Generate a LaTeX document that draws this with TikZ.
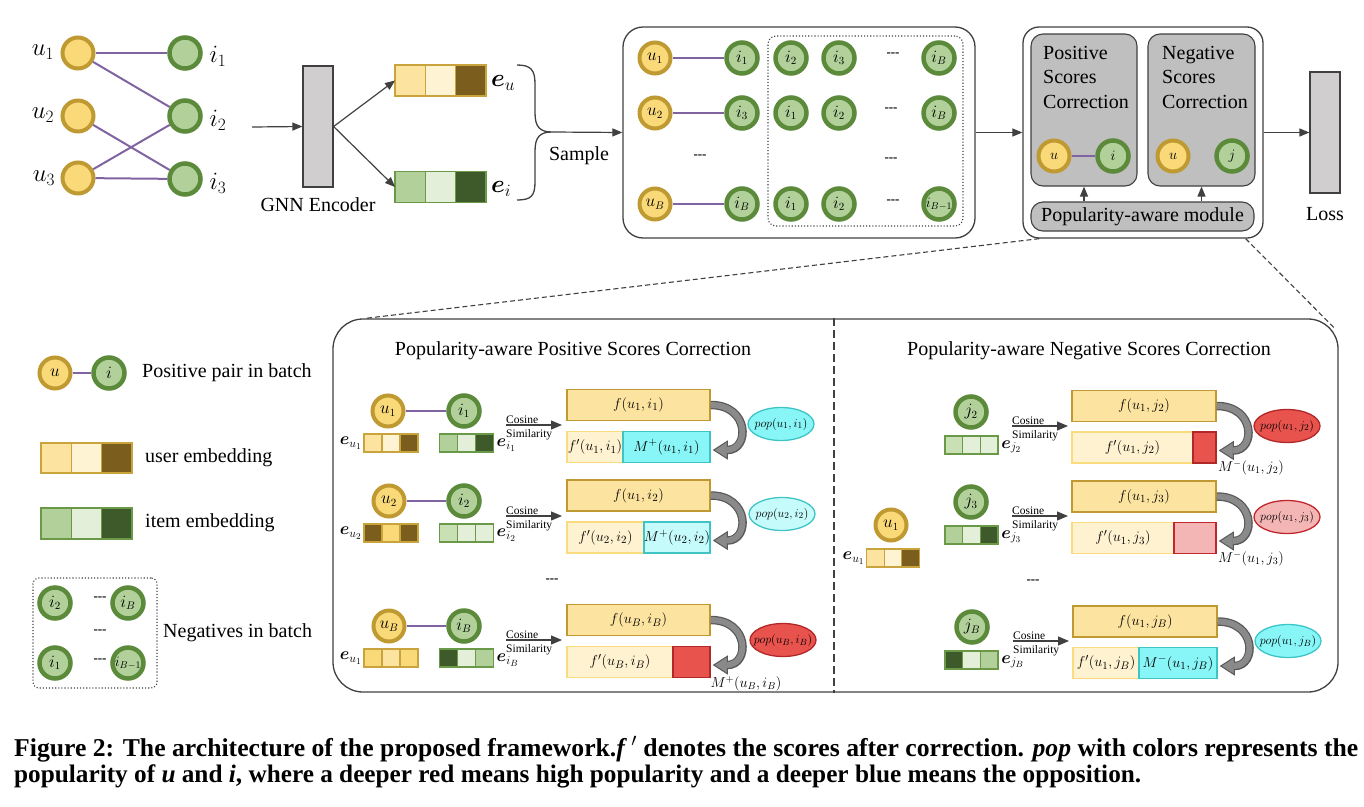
\documentclass[tikz,border=0pt]{standalone}
\usepackage{amsmath,bm,graphicx}
\usepackage{fontspec}
\setmainfont{Liberation Serif}
\usetikzlibrary{arrows.meta,calc,shapes.geometric}
\newcommand\fsz[1]{\fontsize{#1}{#1}\selectfont}
\definecolor{uyel}{HTML}{F9D978}
\definecolor{ugold}{HTML}{BF9A32}
\definecolor{ilight}{HTML}{B1D09A}
\definecolor{igreen}{HTML}{5B8A3A}
\definecolor{purp}{HTML}{8064A2}
\definecolor{eY1}{HTML}{FCE4A0}
\definecolor{eY2}{HTML}{FEF3D3}
\definecolor{eY3}{HTML}{7B5E1E}
\definecolor{eYb}{HTML}{C9A33B}
\definecolor{eG1}{HTML}{B1D09A}
\definecolor{eG2}{HTML}{E4EFDA}
\definecolor{eG3}{HTML}{3F5A2A}
\definecolor{eG4}{HTML}{C9E0B5}
\definecolor{eGb}{HTML}{6A9A48}
\definecolor{fY}{HTML}{FCE4A0}
\definecolor{fYd}{HTML}{BF9A32}
\definecolor{fpY}{HTML}{FEF2D0}
\definecolor{fpYd}{HTML}{FADB7E}
\definecolor{cyA}{HTML}{88F5F7}
\definecolor{cyB}{HTML}{C6FBFB}
\definecolor{cyD}{HTML}{3FC4C6}
\definecolor{rdA}{HTML}{E8534E}
\definecolor{rdD}{HTML}{B02828}
\definecolor{pkA}{HTML}{F4B6B5}
\definecolor{pkD}{HTML}{C0272D}
\definecolor{modg}{HTML}{BFBFBF}
\definecolor{boxg}{HTML}{D0CECE}
\definecolor{cgray}{HTML}{8A8A8A}
\definecolor{lin}{HTML}{404040}
\newcommand\emb[9]{%
  \node[cell, minimum width=#4, minimum height=#5, fill=#7, draw=#9] (#1-2) at (#2,#3) {};
  \node[cell, minimum width=#4, minimum height=#5, fill=#6, draw=#9, anchor=east] (#1-1) at (#1-2.west) {};
  \node[cell, minimum width=#4, minimum height=#5, fill=#8, draw=#9, anchor=west] (#1-3) at (#1-2.east) {};
}
\newcommand\curvarr[2]{%
  \draw[line width=8.5pt, black!65, -{Triangle[length=15pt,width=19pt,line width=1pt,color=black!65,fill=cgray]}] (#1.east) .. controls +(39,0) and +(37,0) .. ($(#2.east)+(2,3)$);
  \draw[line width=6pt, cgray, shorten >=14pt] (#1.east) .. controls +(39,0) and +(37,0) .. ($(#2.east)+(2,3)$);
}
\newcommand\cosarrow[3]{%
  \coordinate (#1s) at (#2,#3);
  \coordinate (#1e) at ($(#2,#3)+(56,0)$);
  \draw[cosarr] (#1s) -- (#1e);
  \node[cosl, anchor=base west] at ($(#1s)+(0,-2)$) {Cosine};
  \node[cosl, anchor=base west] at ($(#1s)+(0,12)$) {Similarity};
}
% pop ellipse: name, x, y, fill, draw, text
\newcommand\popnode[6]{%
  \node[popell, fill=#4, draw=#5] (#1) at (#2,#3) {};
  \node[poptxt] at (#1.center) {#6};
}
\begin{document}
\begin{tikzpicture}[x=1pt,y=-1pt,
  ucirc/.style={circle, draw=ugold, fill=uyel, line width=4pt, minimum size=31pt, inner sep=0pt, font=\fsz{16}},
  icirc/.style={circle, draw=igreen, fill=ilight, line width=4.5pt, minimum size=31pt, inner sep=0pt, font=\fsz{16}},
  pedge/.style={draw=purp, line width=2pt},
  arr/.style={draw=lin, line width=1.2pt, -{Triangle[length=10pt,width=8pt]}},
  cosarr/.style={draw=lin, line width=1.2pt, -{Triangle[length=11pt,width=9pt]}},
  cosl/.style={font=\fsz{11.5}, inner sep=0pt},
  cell/.style={rectangle, inner sep=0pt, outer sep=0pt, line width=1.3pt},
  txt/.style={font=\fsz{20}, inner sep=0pt},
  big/.style={font=\fsz{23}, inner sep=0pt},
  dashes/.style={font=\fsz{13}\bfseries, inner sep=0pt},
  fbox/.style={rectangle, fill=fY, draw=fYd, line width=1.5pt, minimum width=143pt, minimum height=31pt, inner sep=0pt, font=\fsz{15.5}},
  fpbox/.style={rectangle, fill=fpY, draw=fpYd, line width=1.5pt, minimum height=31pt, inner sep=0pt, font=\fsz{15}},
  mbox/.style={rectangle, line width=1.5pt, minimum height=31pt, inner sep=0pt, font=\fsz{15}},
  popell/.style={ellipse, minimum width=66pt, minimum height=33pt, inner sep=0pt, line width=1.3pt},
  poptxt/.style={font=\fsz{12.5}, inner sep=0pt},
  elab/.style={font=\fsz{18}, inner sep=0pt},
  mlab/.style={font=\fsz{14.5}, inner sep=0pt},
  graybox/.style={rectangle, fill=boxg, draw=lin, line width=1.2pt, inner sep=0pt},
  modbox/.style={rectangle, rounded corners=12pt, fill=modg, draw=lin, line width=1.1pt, inner sep=0pt},
  zoomline/.style={draw=lin, line width=1.1pt, dash pattern=on 5pt off 3pt},
]
\useasboundingbox (0,0) rectangle (1364,806);

% ---------------- top-left bipartite graph
\node[ucirc] (u1) at (78,53) {};
\node[ucirc] (u2) at (78,116) {};
\node[ucirc] (u3) at (78,178) {};
\node[icirc] (i1) at (185,53) {};
\node[icirc] (i2) at (185,116) {};
\node[icirc] (i3) at (185,179) {};
\node[big] (lu1) at (43,52) {$u_1$};
\node[big] (lu2) at (43,115) {$u_2$};
\node[big] (lu3) at (44,178) {$u_3$};
\node[big] (li1) at (218,56) {$i_1$};
\node[big] (li2) at (218,120) {$i_2$};
\node[big] (li3) at (218,183) {$i_3$};
\draw[pedge] (u1) -- (i1);
\draw[pedge] (u1) -- (i2);
\draw[pedge] (u2) -- (i3);
\draw[pedge] (u3) -- (i2);
\draw[pedge] (u3) -- (i3);

% ---------------- GNN encoder
\node[graybox, minimum width=30pt, minimum height=121pt] (gnn) at (318,126.5) {};
\coordinate (gin) at (252,127);
\draw[arr] (gin) -- (gnn.west);
\node[txt] (gnnl) at (318,205) {GNN Encoder};
\emb{eu}{440.5}{80.5}{30.3}{31}{eY1}{eY2}{eY3}{eYb}
\emb{ei}{440.5}{187}{30.3}{31}{eG1}{eG2}{eG3}{eGb}
\draw[arr] (gnn.east) -- (eu-1.west);
\draw[arr] (gnn.east) -- (ei-1.west);
\node[font=\fsz{25}, inner sep=0pt, anchor=west] (eul) at (491,83) {$\bm{e}_u$};
\node[font=\fsz{25}, inner sep=0pt, anchor=west] (eil) at (491,189) {$\bm{e}_i$};

% brace + sample
\coordinate (brtop) at (517,65);
\coordinate (brtip) at (552,132);
\coordinate (brbot) at (517,200);
\draw[draw=lin, line width=1.3pt] (brtop) .. controls (531,65) and (535,70) .. (535,84) -- (535,113)
   .. controls (535,127) and (540,132) .. (brtip)
   .. controls (540,132) and (535,137) .. (535,151) -- (535,182)
   .. controls (535,196) and (531,200) .. (brbot);
\node[txt] (sample) at (579,156) {Sample};

% ---------------- batch box
\node[draw=lin, line width=1.3pt, rounded corners=20pt, minimum width=352pt, minimum height=211pt] (batch) at (799,132.5) {};
\draw[arr] (brtip) -- (batch.west);
\node[draw=lin, line width=1.1pt, dotted, rounded corners=8pt, minimum width=195pt, minimum height=190pt] (negbox) at (865.5,131) {};
\node[ucirc] (bu1) at (655,58) {$u_1$};
\node[icirc] (bi1) at (742,58) {$i_1$};
\node[icirc] (bn12) at (791,58) {$i_2$};
\node[icirc] (bn13) at (839,58) {$i_3$};
\node[dashes] (bd1) at (893,55) {-{}-{}-};
\node[icirc] (bn1B) at (939,58) {$i_B$};
\node[ucirc] (bu2) at (655,113) {$u_2$};
\node[icirc] (bi2) at (742,113) {$i_3$};
\node[icirc] (bn21) at (791,113) {$i_1$};
\node[icirc] (bn22) at (839,113) {$i_2$};
\node[dashes] (bd2) at (891,110) {-{}-{}-};
\node[icirc] (bn2B) at (939,113) {$i_B$};
\node[dashes] (bd3) at (700,157) {-{}-{}-};
\node[dashes] (bd4) at (891,160) {-{}-{}-};
\node[ucirc] (buB) at (655,204) {$u_B$};
\node[icirc] (biB) at (742,204) {$i_B$};
\node[icirc] (bnB1) at (791,204) {$i_1$};
\node[icirc] (bnB2) at (839,204) {$i_2$};
\node[dashes] (bd5) at (893,202) {-{}-{}-};
\node[icirc, font=\fsz{14}] (bnBB) at (939,204) {$i_{B-1}$};
\draw[pedge] (bu1) -- (bi1);
\draw[pedge] (bu2) -- (bi2);
\draw[pedge] (buB) -- (biB);

% ---------------- module box
\node[draw=lin, line width=1.3pt, fill=white, rounded corners=16pt, minimum width=240pt, minimum height=211pt] (module) at (1143,132.5) {};
\draw[arr] (batch.east) -- (module.west);
\node[modbox, minimum width=106pt, minimum height=152pt] (posbox) at (1084,110) {};
\node[modbox, minimum width=107pt, minimum height=152pt] (negbox2) at (1201.5,110) {};
\node[font=\fontsize{20}{24.5}\selectfont, inner sep=0pt, align=left, anchor=north west] (postxt) at (1043,46) {Positive\\Scores\\Correction};
\node[font=\fontsize{20}{24.5}\selectfont, inner sep=0pt, align=left, anchor=north west] (negtxt) at (1162,46) {Negative\\Scores\\Correction};
\node[ucirc, font=\fsz{14}] (mu1) at (1054,156) {$u$};
\node[icirc, font=\fsz{14}] (mi1) at (1113,156) {$i$};
\draw[pedge] (mu1) -- (mi1);
\node[ucirc, font=\fsz{14}] (mu2) at (1173,156) {$u$};
\node[icirc, font=\fsz{14}] (mj2) at (1232,156) {$j$};
\node[modbox, minimum width=223pt, minimum height=29pt, font=\fsz{20}] (popmod) at (1142.5,216.5) {Popularity-aware module};
\draw[arr] (popmod.north -| posbox.south) -- (posbox.south);
\draw[arr] (popmod.north -| negbox2.south) -- (negbox2.south);
\node[graybox, minimum width=30pt, minimum height=121pt] (loss) at (1325,132.5) {};
\draw[arr] (module.east) -- (loss.west);
\node[txt] (losst) at (1325,214) {Loss};

% ---------------- lower box
\node[draw=lin, line width=1.3pt, rounded corners=30pt, minimum width=1005pt, minimum height=373pt] (lower) at (835.5,505.5) {};
\draw[zoomline] ($(module.south west)+(17,0)$) -- ($(lower.north west)+(33,0)$);
\draw[zoomline] ($(module.south east)+(-18,0)$) -- ($(lower.north east)+(-3,11)$);
\draw[draw=lin, line width=1.4pt, dash pattern=on 8pt off 4pt] ($(lower.north)+(-1.5,0)$) -- ($(lower.south)+(-1.5,0)$);
\node[txt] (ttlpos) at (573,351) {Popularity-aware Positive Scores Correction};
\node[txt] (ttlneg) at (1089,351) {Popularity-aware Negative Scores Correction};

% positive row 1
\node[ucirc] (pu1) at (388,411) {$u_1$};
\node[icirc] (pi1) at (464,411) {$i_1$};
\draw[pedge] (pu1) -- (pi1);
\emb{peu1}{391}{443}{18}{18}{eY1}{eY2}{eY3}{eYb}
\emb{pei1}{466.5}{443}{18}{18}{eG1}{eG2}{eG3}{eGb}
\node[elab, anchor=east] (peu1l) at ($(peu1-1.west)+(-2,0)$) {$\bm{e}_{u_1}$};
\node[elab, anchor=west] (pei1l) at ($(pei1-3.east)+(3,2)$) {$\bm{e}_{i_1}$};
\cosarrow{pc1}{506}{425}
\node[fbox] (pf1) at (638.5,405) {$f(u_1,i_1)$};
\node[fpbox, minimum width=56pt] (pfp1) at (595,447) {$f'(u_1,i_1)$};
\node[mbox, minimum width=87pt, fill=cyA, draw=cyD] (pm1) at (666.5,447) {$M^{+}(u_1,i_1)$};
\curvarr{pf1}{pm1}
\popnode{pp1}{781}{424}{cyA}{cyD}{$pop(u_1,i_1)$}

% positive row 2
\node[ucirc] (pu2) at (389,501) {$u_2$};
\node[icirc] (pi2) at (464,501) {$i_2$};
\draw[pedge] (pu2) -- (pi2);
\emb{peu2}{391}{533}{18}{18}{eY3}{uyel}{eY3}{eYb}
\emb{pei2}{466.5}{533}{18}{18}{eG4}{eG2}{eG2}{eGb}
\node[elab, anchor=east] (peu2l) at ($(peu2-1.west)+(-2,0)$) {$\bm{e}_{u_2}$};
\node[elab, anchor=west] (pei2l) at ($(pei2-3.east)+(3,2)$) {$\bm{e}_{i_2}$};
\cosarrow{pc2}{506}{516}
\node[fbox] (pf2) at (638.5,495.5) {$f(u_1,i_2)$};
\node[fpbox, minimum width=77pt] (pfp2) at (605.5,537.5) {$f'(u_2,i_2)$};
\node[mbox, minimum width=66pt, fill=cyB, draw=cyD] (pm2) at (677,537.5) {$M^{+}(u_2,i_2)$};
\curvarr{pf2}{pm2}
\popnode{pp2}{782}{514}{cyB}{cyD}{$pop(u_2,i_2)$}
\node[dashes] (pdots) at (552,581) {-{}-{}-};

% positive row B
\node[ucirc] (puB) at (389,626) {$u_B$};
\node[icirc] (piB) at (464,626) {$i_B$};
\draw[pedge] (puB) -- (piB);
\emb{peuB}{391}{658}{18}{18}{uyel}{eY1}{uyel}{eYb}
\emb{peiB}{466.5}{658}{18}{18}{eG3}{eG2}{eG1}{eGb}
\node[elab, anchor=east] (peuBl) at ($(peuB-1.west)+(-2,0)$) {$\bm{e}_{u_1}$};
\node[elab, anchor=west] (peiBl) at ($(peiB-3.east)+(3,2)$) {$\bm{e}_{i_B}$};
\cosarrow{pcB}{506}{640}
\node[fbox] (pfB) at (638.5,620) {$f(u_B,i_B)$};
\node[fpbox, minimum width=106pt] (pfpB) at (620,662) {$f'(u_B,i_B)$};
\node[mbox, minimum width=37pt, fill=rdA, draw=rdD] (pmB) at (691.5,662) {};
\curvarr{pfB}{pmB}
\popnode{ppB}{783}{640}{rdA}{rdD}{$pop(u_B,i_B)$}
\node[mlab] (pmBl) at (746,684) {$M^{+}(u_B,i_B)$};

% negative side: user
\node[ucirc] (nu1) at (891,525) {$u_1$};
\emb{neu1}{893}{558}{17.5}{18}{eY1}{eY2}{eY3}{eYb}
\node[elab, anchor=east] (neu1l) at ($(neu1-1.west)+(-2,0)$) {$\bm{e}_{u_1}$};

% negative row j2
\node[icirc] (nj2) at (971,412) {$j_2$};
\emb{nej2}{971.5}{445}{17.7}{18}{eG4}{eG2}{eG2}{eGb}
\node[elab, anchor=west] (nej2l) at ($(nej2-3.east)+(3,2)$) {$\bm{e}_{j_2}$};
\cosarrow{nc2}{1012}{426}
\node[fbox, minimum width=144pt] (nf2) at (1144,406) {$f(u_1,j_2)$};
\node[fpbox, minimum width=121pt] (nfp2) at (1132.5,447.5) {$f'(u_1,j_2)$};
\node[mbox, minimum width=23pt, fill=rdA, draw=rdD] (nm2) at (1204.5,447.5) {};
\curvarr{nf2}{nm2}
\popnode{np2}{1287}{426}{rdA}{rdD}{$pop(u_1,j_2)$}
\node[mlab] (nm2l) at (1251,468) {$M^{-}(u_1,j_2)$};

% negative row j3
\node[icirc] (nj3) at (971,502) {$j_3$};
\emb{nej3}{971.5}{535}{17.7}{18}{eG1}{eG2}{eG3}{eGb}
\node[elab, anchor=west] (nej3l) at ($(nej3-3.east)+(3,2)$) {$\bm{e}_{j_3}$};
\cosarrow{nc3}{1012}{516}
\node[fbox, minimum width=144pt] (nf3) at (1144,496.5) {$f(u_1,j_3)$};
\node[fpbox, minimum width=102pt] (nfp3) at (1123,538) {$f'(u_1,j_3)$};
\node[mbox, minimum width=42pt, fill=pkA, draw=pkD] (nm3) at (1195,538) {};
\curvarr{nf3}{nm3}
\popnode{np3}{1287}{517}{pkA}{pkD}{$pop(u_1,j_3)$}
\node[mlab] (nm3l) at (1251,559) {$M^{-}(u_1,j_3)$};
\node[dashes] (ndots) at (1033,582) {-{}-{}-};

% negative row jB
\node[icirc] (njB) at (972,627) {$j_B$};
\emb{nejB}{971.5}{660}{17.7}{18}{eG3}{eG2}{eG1}{eGb}
\node[elab, anchor=west] (nejBl) at ($(nejB-3.east)+(3,2)$) {$\bm{e}_{j_B}$};
\cosarrow{ncB}{1013}{641}
\node[fbox, minimum width=144pt] (nfB) at (1145,621.5) {$f(u_1,j_B)$};
\node[fpbox, minimum width=66pt] (nfpB) at (1106,663) {$f'(u_1,j_B)$};
\node[mbox, minimum width=78pt, fill=cyA, draw=cyD] (nmB) at (1178,663) {$M^{-}(u_1,j_B)$};
\curvarr{nfB}{nmB}
\popnode{npB}{1288}{641}{cyA}{cyD}{$pop(u_1,j_B)$}

% ---------------- legend
\node[ucirc] (lgu) at (55,373) {$u$};
\node[icirc] (lgi) at (109,373) {$i$};
\draw[pedge] (lgu) -- (lgi);
\node[txt, anchor=west] (lg1) at (142,373) {Positive pair in batch};
\emb{lgue}{86.5}{458}{30.3}{30}{eY1}{eY2}{eY3}{eYb}
\node[txt, anchor=west] (lg2) at (145,458) {user embedding};
\emb{lgie}{86.5}{523.5}{30.3}{31}{eG1}{eG2}{eG3}{eGb}
\node[txt, anchor=west] (lg3) at (145,523) {item embedding};
\node[draw=lin, line width=1.1pt, dotted, rounded corners=6pt, minimum width=124pt, minimum height=110pt] (lgbox) at (95,633) {};
\node[icirc] (lgn1) at (55,603) {$i_2$};
\node[icirc] (lgn2) at (128,603) {$i_B$};
\node[icirc] (lgn3) at (55,663) {$i_1$};
\node[icirc, font=\fsz{14}] (lgn4) at (128,663) {$i_{B-1}$};
\node[dashes] (lgd1) at (100,599) {-{}-{}-};
\node[dashes] (lgd2) at (100,632) {-{}-{}-};
\node[dashes] (lgd3) at (100,661) {-{}-{}-};
\node[txt, anchor=west] (lg4) at (163,633) {Negatives in batch};

% ---------------- caption
\node[anchor=west, inner sep=0pt] (cap1) at (14,749) {\resizebox{1344pt}{!}{\fsz{20}\bfseries Figure 2: The architecture of the proposed framework.\textit{f}\,$^{\prime}$ denotes the scores after correction. \textit{pop} with colors represents the}};
\node[anchor=west, inner sep=0pt] (cap2) at (14,776) {\resizebox{1127pt}{!}{\fsz{20}\bfseries popularity of \textit{u} and \textit{i}, where a deeper red means high popularity and a deeper blue means the opposition.}};
\end{tikzpicture}
\end{document}
